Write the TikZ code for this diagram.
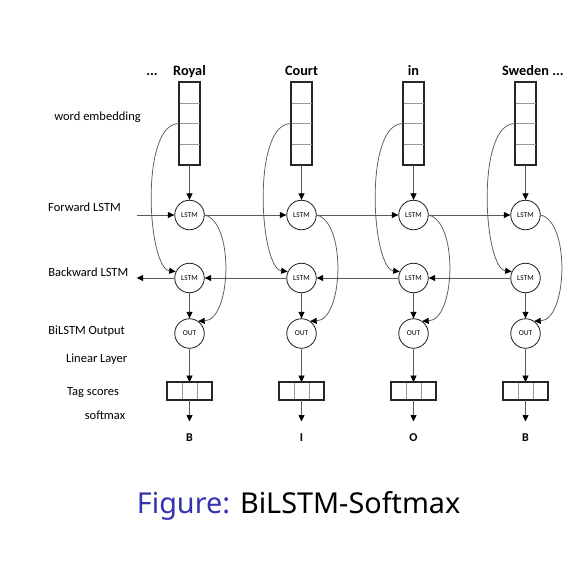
\documentclass[tikz,border=0pt]{standalone}
\usepackage{fontspec}
\setmainfont{Carlito}
\newfontfamily\capfont{Noto Sans}
\usetikzlibrary{arrows.meta}
\definecolor{linegray}{gray}{0.35}
\definecolor{cellgray}{gray}{0.6}
\definecolor{capblue}{RGB}{52,52,178}
\tikzset{
  arr/.style={draw=linegray, line width=0.75pt, -{Triangle[length=6.5pt,width=6pt,color=black]}},
  conn/.style={draw=linegray, line width=0.75pt},
  embbox/.style={draw=black!85, line width=1.3pt, minimum width=20pt, minimum height=82pt, inner sep=0pt},
  tagbox/.style={draw=black!85, line width=1.3pt, minimum width=45pt, minimum height=16.5pt, inner sep=0pt},
  cellline/.style={draw=cellgray, line width=0.7pt},
  unit/.style={circle, draw=black!85, line width=0.85pt, minimum size=29.5pt, inner sep=0pt, font=\fontsize{7.5}{8}\selectfont},
  lab/.style={font=\fontsize{12.5}{14}\selectfont, text height=8.5pt, text depth=2.5pt, inner sep=0pt},
  word/.style={font=\bfseries\fontsize{14.3}{16}\selectfont, anchor=base, inner sep=0pt},
  outl/.style={font=\bfseries\fontsize{12}{13}\selectfont, anchor=base, inner sep=0pt},
}
\begin{document}
\begin{tikzpicture}[x=1pt,y=-1pt]
\useasboundingbox (0,0) rectangle (586,566);
\fill[white] (0,0) rectangle (586,566);

% left labels
\node[lab] (l1) at (97.5,117) {word embedding};
\node[lab] (l2) at (84.5,208) {Forward LSTM};
\node[lab] (l3) at (88.3,273) {Backward LSTM};
\node[lab] (l4) at (86.7,331) {BiLSTM Output};
\node[lab] (l5) at (96.7,359) {Linear Layer};
\node[lab] (l6) at (93,392) {Tag scores};
\node[lab] (l7) at (105,416.5) {softmax};

% dots
\node[word] (dl) at (152,75.7) {...};
\node[word] (dr) at (558,75.7) {...};

\foreach \i/\x/\w/\o in {1/189.5/Royal/B, 2/301.5/Court/I, 3/413.5/in/O, 4/525.5/Sweden/B}{
  \node[word] (w\i) at (\x,75.7) {\w};
  \node[embbox] (e\i) at (\x,123.5) {};
  \draw[cellline] ([yshift=20.5pt]e\i.west) -- ([yshift=20.5pt]e\i.east);
  \draw[cellline] (e\i.west) -- (e\i.east);
  \draw[cellline] ([yshift=-20.5pt]e\i.west) -- ([yshift=-20.5pt]e\i.east);
  \draw[draw=black!85, line width=1.3pt] (e\i.north west) rectangle (e\i.south east);
  \node[unit] (f\i) at (\x,215) {LSTM};
  \node[unit] (b\i) at (\x,278) {LSTM};
  \node[unit] (o\i) at (\x,333.5) {OUT};
  \node[tagbox] (t\i) at (\x,391) {};
  \draw[cellline] ([xshift=-7.5pt]t\i.north) -- ([xshift=-7.5pt]t\i.south);
  \draw[cellline] ([xshift=7.5pt]t\i.north) -- ([xshift=7.5pt]t\i.south);
  \draw[draw=black!85, line width=1.3pt] (t\i.north west) rectangle (t\i.south east);
  \coordinate (d\i) at (\x,421.5);
  \node[outl] (y\i) at (\x,441.7) {\o};
  \draw[arr] (e\i.south) -- (f\i.north);
  \draw[arr] (b\i.south) -- (o\i.north);
  \draw[arr] (o\i.south) -- (t\i.north);
  \draw[arr] (t\i.south) -- (d\i);
  \draw[arr] (e\i.west) .. controls ({\x-50},124) and ({\x-42},268) .. (b\i.155);
  \draw[arr] (f\i.east) .. controls ({\x+45},222) and ({\x+42},320) .. (o\i.55);
}

% horizontal recurrences
\coordinate (fin) at (136.7,215);
\coordinate (bout) at (136.7,278);
\draw[arr] (fin) -- (f1.west);
\draw[arr] (f1.east) -- (f2.west);
\draw[arr] (f2.east) -- (f3.west);
\draw[arr] (f3.east) -- (f4.west);
\draw[arr] (b4.west) -- (b3.east);
\draw[arr] (b3.west) -- (b2.east);
\draw[arr] (b2.west) -- (b1.east);
\draw[arr] (b1.west) -- (bout);

% caption
\node[font=\capfont\fontsize{28.8}{32}\selectfont, anchor=base west, inner sep=0pt] (cap) at (136.7,513.3)
  {\textcolor{capblue}{Figure:} BiLSTM-Softmax};
\end{tikzpicture}
\end{document}
